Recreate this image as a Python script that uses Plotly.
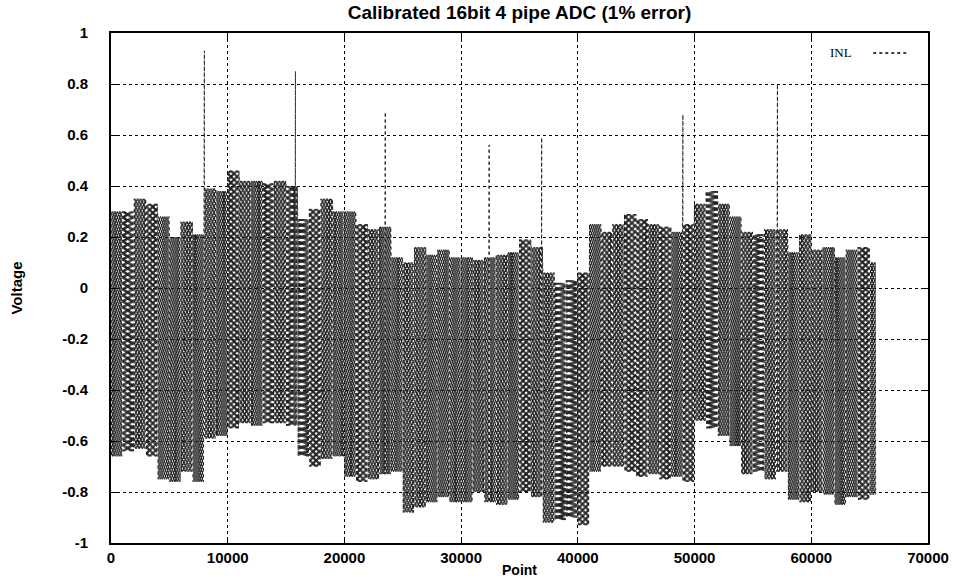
import plotly.graph_objects as go

# INL envelope of the calibrated 16-bit 4-pipe ADC, one entry per 1000-code bin
bin_size = 1000
n_codes = 65536
inl_upper = [
    0.30, 0.30, 0.35, 0.33, 0.28, 0.20, 0.26, 0.21, 0.39, 0.38,
    0.46, 0.42, 0.42, 0.41, 0.42, 0.40, 0.27, 0.31, 0.35, 0.30,
    0.30, 0.25, 0.23, 0.24, 0.12, 0.10, 0.16, 0.13, 0.15, 0.12,
    0.12, 0.11, 0.12, 0.13, 0.14, 0.19, 0.16, 0.06, 0.02, 0.03,
    0.06, 0.25, 0.22, 0.25, 0.29, 0.27, 0.25, 0.24, 0.22, 0.25,
    0.33, 0.38, 0.33, 0.28, 0.22, 0.21, 0.23, 0.23, 0.14, 0.21,
    0.15, 0.16, 0.12, 0.15, 0.16, 0.10,
]
inl_lower = [
    -0.66, -0.64, -0.63, -0.66, -0.75, -0.76, -0.72, -0.76, -0.59, -0.58,
    -0.55, -0.53, -0.54, -0.53, -0.53, -0.54, -0.66, -0.70, -0.67, -0.66,
    -0.74, -0.76, -0.75, -0.73, -0.72, -0.88, -0.86, -0.84, -0.82, -0.84,
    -0.84, -0.80, -0.84, -0.85, -0.83, -0.80, -0.82, -0.92, -0.91, -0.90,
    -0.93, -0.72, -0.70, -0.70, -0.72, -0.74, -0.73, -0.75, -0.74, -0.76,
    -0.52, -0.55, -0.58, -0.62, -0.73, -0.72, -0.75, -0.72, -0.83, -0.84,
    -0.80, -0.81, -0.85, -0.82, -0.83, -0.81,
]
# isolated single-code spikes
spike_codes = [8000, 15800, 23500, 32400, 36900, 49000, 57100]
spike_values = [0.93, 0.85, 0.69, 0.56, 0.59, 0.68, 0.80]

x_ticks = [0, 10000, 20000, 30000, 40000, 50000, 60000, 70000]
x_tick_text = ["0", "10000", "20000", "30000", "40000", "50000", "60000", "70000"]
y_ticks = [-1, -0.8, -0.6, -0.4, -0.2, 0, 0.2, 0.4, 0.6, 0.8, 1]
y_tick_text = ["-1", "-0.8", "-0.6", "-0.4", "-0.2", "0", "0.2", "0.4", "0.6", "0.8", "1"]

# The INL trace swings between each bin's extremes; draw it as a dense
# dotted trace alternating between the bin's upper and lower values.
step = 40
xs, ys = [], []
spikes = dict(zip(spike_codes, spike_values))
for k, (hi, lo) in enumerate(zip(inl_upper, inl_lower)):
    start = k * bin_size
    stop = min(start + bin_size, n_codes)
    for j, code in enumerate(range(start, stop, step)):
        xs.append(code)
        ys.append(hi if j % 2 == 0 else lo)
    for c, v in spikes.items():
        if start <= c < stop:
            xs.append(c)
            ys.append(v)
            xs.append(c + 1)
            ys.append(lo)
order = sorted(range(len(xs)), key=lambda i: xs[i])
xs = [xs[i] for i in order]
ys = [ys[i] for i in order]

fig = go.Figure()
fig.add_trace(go.Scatter(
    x=xs, y=ys, mode="lines", name="INL",
    line=dict(color="#222222", width=1, dash="dot"),
    showlegend=False,
))

bold = dict(family="Liberation Sans", size=15, color="black", weight="bold")

fig.update_layout(
    width=961, height=588,
    margin=dict(l=111, r=29, t=33, b=44),
    paper_bgcolor="white", plot_bgcolor="white",
    title=dict(text="Calibrated 16bit 4 pipe ADC (1% error)",
               x=0.5, xref="paper", xanchor="center",
               y=1 - 12 / 588, yref="container", yanchor="middle",
               font=dict(family="Liberation Sans", size=19, color="black", weight="bold")),
    xaxis=dict(
        range=[0, 70000], tickmode="array", tickvals=x_ticks, ticktext=x_tick_text,
        showgrid=True, gridcolor="black", griddash="dot", gridwidth=1,
        zeroline=False, showline=True, linecolor="black", linewidth=2, mirror="allticks",
        ticks="inside", ticklen=6, tickcolor="black", tickfont=bold,
        title=dict(text="Point", font=dict(family="Liberation Sans", size=14, color="black", weight="bold"), standoff=0),
    ),
    yaxis=dict(
        range=[-1, 1], tickmode="array", tickvals=y_ticks, ticktext=y_tick_text,
        showgrid=True, gridcolor="black", griddash="dot", gridwidth=1,
        zeroline=False, showline=True, linecolor="black", linewidth=2, mirror="allticks",
        ticks="inside", ticklen=6, tickcolor="black", tickfont=bold,
        ticklabelstandoff=18,
        title=dict(text="Voltage", font=dict(family="Liberation Sans", size=15, color="black", weight="bold"), standoff=36),
    ),
)

# key in the upper right corner: label followed by a dotted sample line
fig.add_annotation(x=0.91, y=0.961, xref="paper", yref="paper", text="INL",
                   showarrow=False, xanchor="right", yanchor="middle",
                   font=dict(family="Liberation Serif", size=13, color="black"))
fig.add_shape(type="line", xref="paper", yref="paper", x0=0.933, x1=0.977,
              y0=0.961, y1=0.961, line=dict(color="black", width=1.5, dash="dot"))

fig.write_html("out.html")
